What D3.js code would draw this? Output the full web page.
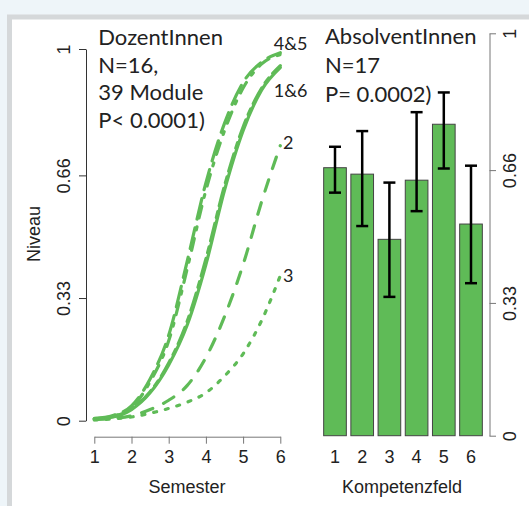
<!DOCTYPE html>
<html>
<head>
<meta charset="utf-8">
<script src="https://cdn.jsdelivr.net/npm/d3@7"></script>
<style>
  body { margin: 0; padding: 0; background: #eef5f9; }
  svg { display: block; }
</style>
</head>
<body>
<svg id="chart" width="529" height="506"></svg>
<script>
// ---------- data ----------
const semesters = [1, 1.5, 2, 2.5, 3, 3.5, 4, 4.5, 5, 5.5, 6];
const curve1 = [0.005, 0.010, 0.030, 0.075, 0.150, 0.258, 0.420, 0.620, 0.780, 0.890, 0.950];
const curve2 = [0.003, 0.006, 0.013, 0.030, 0.055, 0.095, 0.170, 0.280, 0.420, 0.590, 0.740];
const curve3 = [0.002, 0.005, 0.010, 0.020, 0.033, 0.050, 0.075, 0.120, 0.180, 0.270, 0.390];
const curve4 = [0.005, 0.012, 0.035, 0.105, 0.215, 0.410, 0.620, 0.780, 0.895, 0.960, 0.985];
const curve5 = [0.006, 0.014, 0.040, 0.112, 0.230, 0.430, 0.640, 0.800, 0.910, 0.965, 0.990];
const curve6 = [0.005, 0.011, 0.032, 0.078, 0.155, 0.268, 0.435, 0.632, 0.790, 0.895, 0.955];
const curveLabelTexts = ["4&5", "1&6", "2", "3"];
const curveLabelLevels = [0.998, 0.870, 0.732, 0.373];
const levelTicks = [0, 0.33, 0.66, 1];
const levelTickLabels = ["0", "0.33", "0.66", "1"];
const semesterTicks = [1, 2, 3, 4, 5, 6];

const fields = ["1", "2", "3", "4", "5", "6"];
const fieldMeans = [0.666, 0.650, 0.488, 0.635, 0.774, 0.526];
const fieldLower = [0.604, 0.521, 0.345, 0.558, 0.664, 0.379];
const fieldUpper = [0.718, 0.757, 0.629, 0.804, 0.853, 0.671];

const leftTitle = ["DozentInnen", "N=16,", "39 Module", "P< 0.0001)"];
const rightTitle = ["AbsolventInnen", "N=17", "P= 0.0002)"];

// ---------- setup ----------
const svg = d3.select("#chart");
const green = "#5fbb57";
const axisFont = "'Liberation Sans', Arial, sans-serif";
const noteFont = "Lato, 'Open Sans', sans-serif";

// background frame
svg.append("rect").attr("x", 0).attr("y", 0).attr("width", 529).attr("height", 506).attr("fill", "#eef5f9");
svg.append("rect").attr("x", 7).attr("y", 14.5).attr("width", 522).attr("height", 492).attr("fill", "#d5d8da");
svg.append("rect").attr("x", 12).attr("y", 19.5).attr("width", 517).attr("height", 487).attr("fill", "#ffffff");

// ---------- left chart ----------
const xL = d3.scaleLinear().domain([1, 6]).range([94.3, 280.3]);
const yL = d3.scaleLinear().domain([0, 1]).range([420.7, 49]);

const yAxisL = svg.append("g").attr("transform", "translate(86,0)")
  .call(d3.axisLeft(yL).tickValues(levelTicks).tickFormat((d, i) => levelTickLabels[i]).tickSize(7).tickSizeOuter(0));
yAxisL.select(".domain").attr("stroke", "#333").attr("stroke-width", 1);
yAxisL.selectAll(".tick line").attr("stroke", "#333");
yAxisL.selectAll(".tick text")
  .attr("transform", "rotate(-90)").attr("x", 0).attr("y", -16).attr("dy", null)
  .attr("text-anchor", "middle").attr("font-family", axisFont).attr("font-size", 18).attr("fill", "#222");

const xAxisL = svg.append("g").attr("transform", "translate(0,436.7)")
  .call(d3.axisBottom(xL).tickValues(semesterTicks).tickFormat(d3.format("d")).tickSize(7).tickSizeOuter(0));
xAxisL.select(".domain").attr("stroke", "#777");
xAxisL.selectAll(".tick line").attr("stroke", "#777");
xAxisL.selectAll(".tick text").attr("y", 26.5).attr("dy", null)
  .attr("font-family", axisFont).attr("font-size", 18).attr("fill", "#222");

svg.append("text").attr("x", 187).attr("y", 493).attr("text-anchor", "middle")
  .attr("font-family", axisFont).attr("font-size", 18).attr("fill", "#222").text("Semester");
svg.append("text").attr("transform", "translate(39.5,234) rotate(-90)").attr("text-anchor", "middle")
  .attr("font-family", axisFont).attr("font-size", 18).attr("fill", "#222").text("Niveau");

const curves = [
  {vals: curve3, dash: "3,9"},
  {vals: curve2, dash: "12,12"},
  {vals: curve6, dash: "6,6,18,6"},
  {vals: curve1, dash: null},
  {vals: curve5, dash: "21,9"},
  {vals: curve4, dash: "3,9,12,9"}
];
const line = d3.line().x(d => xL(d[0])).y(d => yL(d[1])).curve(d3.curveMonotoneX);
svg.append("g").selectAll("path").data(curves).join("path")
  .attr("d", c => line(semesters.map((s, i) => [s, c.vals[i]])))
  .attr("fill", "none").attr("stroke", green).attr("stroke-width", 3.2)
  .attr("stroke-linecap", "round").attr("stroke-linejoin", "round")
  .attr("stroke-dasharray", c => c.dash);

svg.append("g").selectAll("text").data(curveLabelTexts).join("text")
  .attr("x", d => xL(6) + (d.length > 1 ? -6.5 : 2.7))
  .attr("y", (d, i) => yL(curveLabelLevels[i]))
  .attr("font-family", noteFont).attr("font-size", 18).attr("fill", "#222")
  .text(d => d);

svg.append("g").selectAll("text").data(leftTitle).join("text")
  .attr("x", 98.3).attr("y", (d, i) => 45 + i * 27.6)
  .attr("font-family", noteFont).attr("font-size", 22).attr("fill", "#222").text(d => d);

// ---------- right chart ----------
const xR = d3.scaleBand().domain(fields).range([321.4, 321.4 + 6 * 27.2]).paddingInner(1 / 6).paddingOuter(1 / 12);
const yR = d3.scaleLinear().domain([0, 1]).range([435.7, 33.3]);

svg.append("g").selectAll("rect").data(fields).join("rect")
  .attr("x", d => xR(d)).attr("width", xR.bandwidth())
  .attr("y", (d, i) => yR(fieldMeans[i])).attr("height", (d, i) => yR(0) - yR(fieldMeans[i]))
  .attr("fill", green).attr("stroke", "#444").attr("stroke-width", 1);

const eb = svg.append("g").attr("stroke", "#000").attr("stroke-width", 2.5);
fields.forEach((f, i) => {
  const cx = xR(f) + xR.bandwidth() / 2;
  eb.append("line").attr("x1", cx).attr("x2", cx).attr("y1", yR(fieldLower[i])).attr("y2", yR(fieldUpper[i]));
  eb.append("line").attr("x1", cx - 6).attr("x2", cx + 6).attr("y1", yR(fieldLower[i])).attr("y2", yR(fieldLower[i]));
  eb.append("line").attr("x1", cx - 6).attr("x2", cx + 6).attr("y1", yR(fieldUpper[i])).attr("y2", yR(fieldUpper[i]));
});

const xAxisR = svg.append("g").attr("transform", "translate(0,436.7)")
  .call(d3.axisBottom(xR).tickSize(0));
xAxisR.select(".domain").remove();
xAxisR.selectAll(".tick text").attr("y", 26.5).attr("dy", null)
  .attr("font-family", axisFont).attr("font-size", 18).attr("fill", "#222");

const yAxisR = svg.append("g").attr("transform", "translate(489.5,0)")
  .call(d3.axisRight(yR).tickValues(levelTicks).tickFormat((d, i) => levelTickLabels[i]).tickSize(6.5).tickSizeOuter(0));
yAxisR.select(".domain").attr("stroke", "#777");
yAxisR.selectAll(".tick line").attr("stroke", "#777");
yAxisR.selectAll(".tick text")
  .attr("transform", "rotate(-90)").attr("x", 0).attr("y", 26.5).attr("dy", null)
  .attr("text-anchor", "middle").attr("font-family", axisFont).attr("font-size", 18).attr("fill", "#222");

svg.append("text").attr("x", 402).attr("y", 493).attr("text-anchor", "middle")
  .attr("font-family", axisFont).attr("font-size", 18).attr("fill", "#222").text("Kompetenzfeld");

svg.append("g").selectAll("text").data(rightTitle).join("text")
  .attr("x", 325).attr("y", (d, i) => 44 + i * 28.8)
  .attr("font-family", noteFont).attr("font-size", 22).attr("fill", "#222").text(d => d);
</script>
</body>
</html>
